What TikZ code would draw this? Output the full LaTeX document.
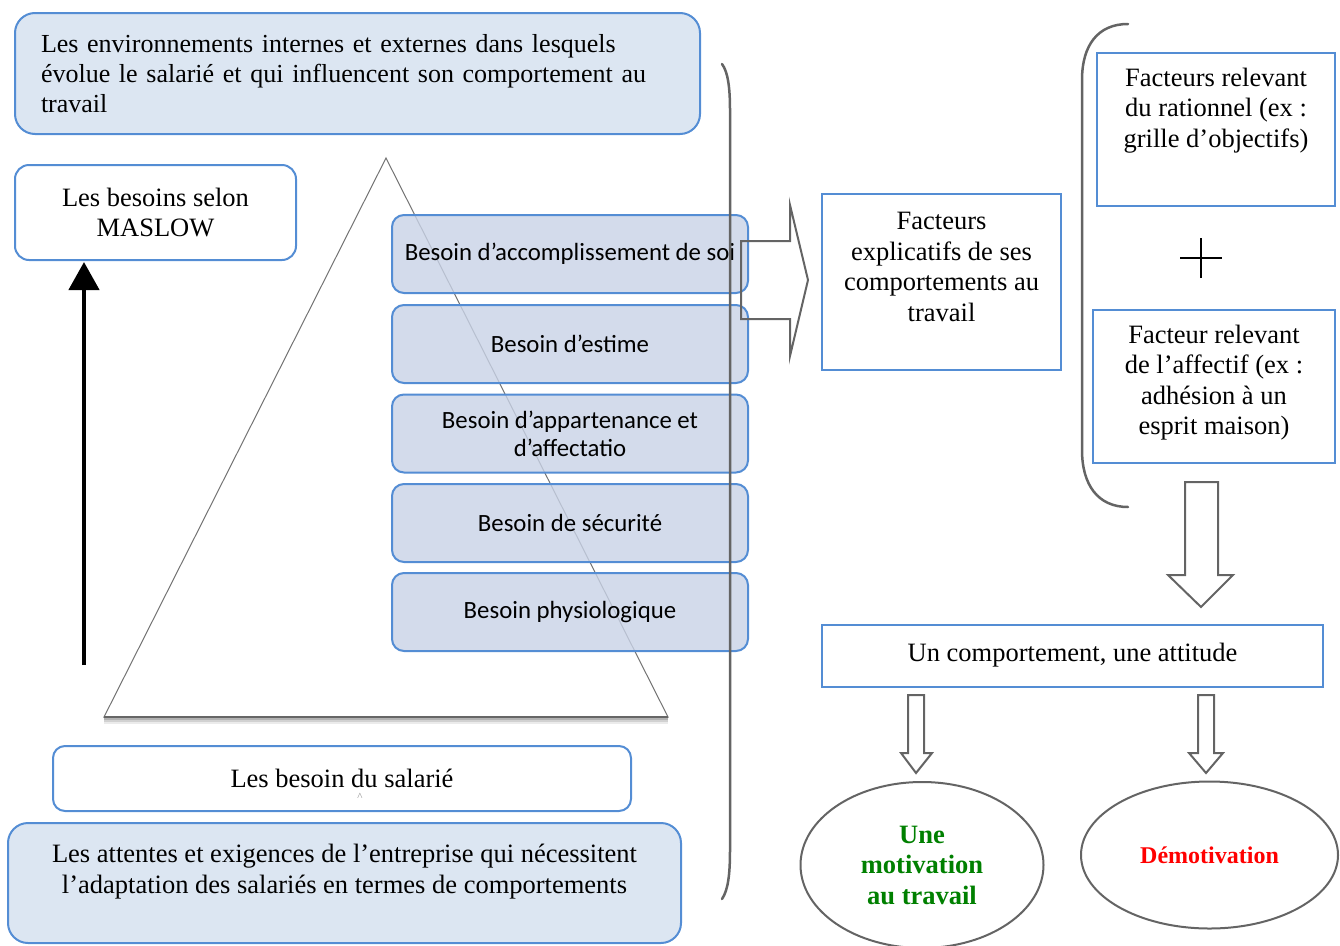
\documentclass[tikz,border=0pt]{standalone}
\usepackage{fontspec}
\setmainfont{Liberation Serif}
\newfontfamily\calibrifont{Carlito}
\usetikzlibrary{shapes.geometric,arrows.meta}
\definecolor{boxblue}{RGB}{84,141,212}
\definecolor{paleblue}{RGB}{220,230,242}
\definecolor{levelblue}{RGB}{200,210,230}
\definecolor{linegray}{RGB}{100,100,100}
\definecolor{motgreen}{RGB}{0,128,0}
\definecolor{motred}{RGB}{255,0,0}
\newcommand\serifsize{\fontsize{26.5}{30.5}\selectfont}
\newcommand\sanssize{\calibrifont\fontsize{24.8}{28}\selectfont}

\begin{document}
\begin{tikzpicture}[x=1pt,y=-1pt,
  every node/.style={inner sep=0pt, outer sep=0pt},
  panel/.style={draw=boxblue, line width=2pt, rounded corners=20pt, fill=paleblue},
  whitepanel/.style={draw=boxblue, line width=2pt, rounded corners=14pt, fill=white},
  level/.style={draw=boxblue, line width=2pt, rounded corners=12pt, fill=levelblue,
    fill opacity=0.8, text opacity=1, minimum width=356pt, minimum height=78pt,
    font=\sanssize, align=center},
  factor/.style={draw=boxblue, line width=2pt, fill=white},
  txt/.style={font=\serifsize, align=center},
  hollow/.style={draw=linegray, line width=2pt, line join=miter},
  bracket/.style={draw=linegray, line width=2.5pt, line cap=round},
  outcome/.style={ellipse, draw=linegray, line width=2pt, fill=white,
    font=\serifsize\bfseries, align=center}
]
\useasboundingbox (0,0) rectangle (1340,945);

% environment box
\node[panel, minimum width=685pt, minimum height=121pt, text width=633pt,
      inner xsep=26pt, align=left, font=\fontsize{26}{30}\selectfont] (env) at (357.5,73.5)
  {Les environnements internes et externes dans lesquels\\
   évolue le salarié et qui influencent son comportement au\\
   travail};

% Maslow title and upward arrow
\node[whitepanel, minimum width=281pt, minimum height=95pt, txt] (maslow) at (155.5,212.5)
  {Les besoins selon\\MASLOW};
\coordinate (mbase) at (84,665);
\draw[line width=4.5pt, shorten >=2pt, -{Triangle[width=30pt,length=28pt]}]
  (mbase) -- (mbase |- maslow.south);

% pyramid
\coordinate (apex) at (386,158);
\coordinate (baseL) at (104,717);
\coordinate (baseR) at (668,717);
\foreach \o/\a in {2/0.30,4/0.18,6/0.08}
  \draw[black, opacity=\a, line width=2pt] ([yshift=-\o pt]baseL) -- ([yshift=-\o pt]baseR);
\filldraw[fill=white, draw=black!55, line width=1pt] (apex) -- (baseR) -- (baseL) -- cycle;
\draw[black!60, line width=1.5pt] (baseL) -- (baseR);

% need levels
\node[level] (l1) at (570,254) {Besoin d’accomplissement de soi};
\node[level] (l2) at (570,344) {Besoin d’estime};
\node[level] (l3) at (570,433.5) {Besoin d’appartenance et\\d’affectatio};
\node[level] (l4) at (570,523) {Besoin de sécurité};
\node[level] (l5) at (570,612) {Besoin physiologique};

% employee needs and company expectations
\node[whitepanel, rounded corners=12pt, minimum width=578pt, minimum height=65pt, txt]
  (sal) at (342,778.5) {Les besoin du salarié};
\node[font=\fontsize{11}{11}\selectfont, text=black!45] (caret) at (360,797) {\textasciicircum};
\node[panel, minimum width=673pt, minimum height=120pt] (att) at (344.5,883) {};
\node[txt] (atttext) at ([yshift=11.5pt]att.center)
  {Les attentes et exigences de l’entreprise qui nécessitent\\
   l’adaptation des salariés en termes de comportements};

% left closing bracket
\draw[bracket] (722,64) .. controls (728,72) and (730,88) .. (730,110)
  -- (730,850) .. controls (730,875) and (728,890) .. (722,899);

% block arrow towards explanatory factors
\draw[hollow] (741,241) -- (790,241) -- (790,205) -- (808,280) -- (790,356)
  -- (790,319) -- (741,319) -- cycle;

% explanatory factors
\node[factor, minimum width=239pt, minimum height=176pt] (fexp) at (941.5,282) {};
\node[txt] (fexptext) at ([yshift=15pt]fexp.center)
  {Facteurs\\explicatifs de ses\\comportements au\\travail};

% right opening bracket
\draw[bracket] (1128,24) .. controls (1098,24) and (1082,45) .. (1082,80)
  -- (1082,450) .. controls (1082,485) and (1098,507) .. (1128,507);

% rational and affective factors
\node[factor, minimum width=238pt, minimum height=153pt] (rat) at (1216,129.5) {};
\node[txt] (rattext) at ([yshift=19pt]rat.center)
  {Facteurs relevant\\du rationnel (ex :\\grille d’objectifs)};
\coordinate (plus) at (1201,258);
\draw[line width=1.5pt] ([xshift=-21pt]plus) -- ([xshift=21pt]plus)
  ([yshift=-20pt]plus) -- ([yshift=20pt]plus);
\node[factor, minimum width=242pt, minimum height=153pt] (aff) at (1214,386.5) {};
\node[txt] (afftext) at ([yshift=4pt]aff.center)
  {Facteur relevant\\de l’affectif (ex :\\adhésion à un\\esprit maison)};

% down arrow to behaviour
\draw[hollow] (1185,482) -- (1218,482) -- (1218,575) -- (1233,575) -- (1201,607)
  -- (1168,575) -- (1185,575) -- cycle;

% behaviour
\node[factor, minimum width=501pt, minimum height=62pt, txt] (comp) at (1072.5,655.5)
  {Un comportement, une attitude};

% down arrows to outcomes
\draw[hollow] (908,695) -- (924,695) -- (924,753) -- (932,753) -- (916,773)
  -- (901,753) -- (908,753) -- cycle;
\draw[hollow] (1198,695) -- (1214,695) -- (1214,753) -- (1223,753) -- (1206,773)
  -- (1189,753) -- (1198,753) -- cycle;

% outcomes
\node[outcome, minimum width=243pt, minimum height=166pt, text=motgreen] (motiv) at (922,865)
  {Une\\motivation\\au travail};
\node[outcome, minimum width=257pt, minimum height=147pt, text=motred,
      font=\fontsize{24}{28}\selectfont\bfseries] (demot) at (1209.5,855)
  {Démotivation};
\end{tikzpicture}
\end{document}
